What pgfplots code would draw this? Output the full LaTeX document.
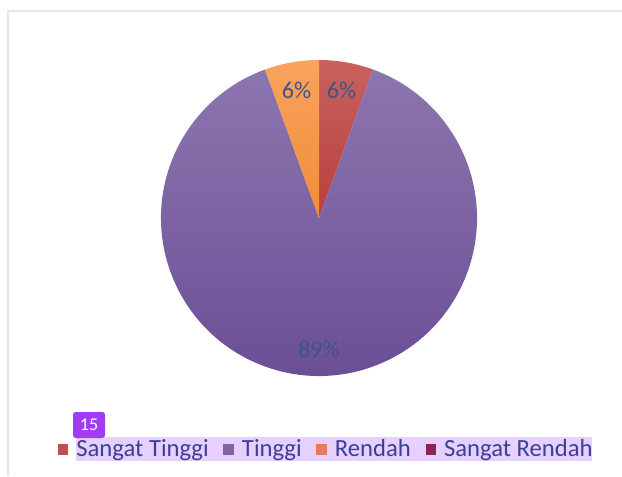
\documentclass[border=0pt]{standalone}
\usepackage{pgfplots}
\usepackage{pgfplotstable}
\pgfplotsset{compat=1.18}
\usepackage{fontspec}
\setmainfont{Carlito}
\definecolor{stTop}{HTML}{C8625F}
\definecolor{stBot}{HTML}{B93F3C}
\definecolor{tTop}{HTML}{8C76AE}
\definecolor{tBot}{HTML}{694C95}
\definecolor{rTop}{HTML}{FAA35D}
\definecolor{rBot}{HTML}{F08C38}
\definecolor{stL}{HTML}{C0504D}
\definecolor{tL}{HTML}{8064A2}
\definecolor{rL}{HTML}{E97B5C}
\definecolor{srL}{HTML}{8A2452}
\definecolor{lblc}{HTML}{3B5586}
\definecolor{legc}{HTML}{3C3F95}
\definecolor{hl}{HTML}{E5D0FF}
\definecolor{badge}{HTML}{A03CF5}
\definecolor{frame}{HTML}{DEE7F2}

\pgfplotstableread{
label value
ST 1
T 16
R 1
SR 0
}\piedata
\pgfplotstablegetelem{0}{value}\of\piedata\let\vST\pgfplotsretval
\pgfplotstablegetelem{1}{value}\of\piedata\let\vT\pgfplotsretval
\pgfplotstablegetelem{2}{value}\of\piedata\let\vR\pgfplotsretval
\pgfplotstablegetelem{3}{value}\of\piedata\let\vSR\pgfplotsretval
\pgfmathsetmacro\vTot{\vST+\vT+\vR+\vSR}
\pgfmathsetmacro\aA{90}
\pgfmathsetmacro\aB{90-360*\vST/\vTot}
\pgfmathsetmacro\aC{\aB-360*\vT/\vTot}
\pgfmathsetmacro\aD{\aC-360*\vR/\vTot}
\pgfmathsetmacro\mA{(\aA+\aB)/2}
\pgfmathsetmacro\mB{(\aB+\aC)/2}
\pgfmathsetmacro\mC{(\aC+\aD)/2}

\newcommand\slice[4]{%
  \shade[top color=#3,bottom color=#4] (axis cs:0,0) -- (axis cs:{cos(#1)},{sin(#1)})
    arc[start angle=#1,end angle=#2,radius=118.5pt] -- cycle;}

\begin{document}
\begin{tikzpicture}[x=0.75pt,y=0.75pt]
\path[use as bounding box] (0,0) rectangle (622,476);
\fill[white] (0,0) rectangle (622,476);
\draw[frame,line width=1.5pt] (8,0) -- (8,465) -- (622,465);
\fill[hl] (76,476-461) rectangle (592,476-437);
\coordinate (C) at (319,258);
\begin{axis}[
  at={(C)}, anchor=center,
  x=118.5pt, y=118.5pt,
  xmin=-1, xmax=1, ymin=-1, ymax=1,
  hide axis, clip=false,
  legend style={at={(0.524,-0.23)}, anchor=center, draw=none, fill=none,
    legend columns=-1, font=\fontsize{18.5}{20}\selectfont\color{legc},
    /tikz/every odd column/.append style={column sep=4.5pt},
    /tikz/every even column/.append style={column sep=9pt}},
  legend image code/.code={\fill[#1] (0pt,-4pt) rectangle (7pt,3pt);},
]
\slice{\aA}{\aB}{stTop}{stBot}
\slice{\aB}{\aC}{tTop}{tBot}
\slice{\aC}{\aD}{rTop}{rBot}
\addlegendimage{stL}\addlegendentry{Sangat Tinggi}
\addlegendimage{tL}\addlegendentry{Tinggi}
\addlegendimage{rL}\addlegendentry{Rendah}
\addlegendimage{srL}\addlegendentry{Sangat Rendah}
\node[lblc,font=\fontsize{18}{20}\selectfont] at (axis cs:{0.82*cos(\mA)},{0.82*sin(\mA)}) {6\%};
\node[lblc,font=\fontsize{18}{20}\selectfont] at (axis cs:{0.82*cos(\mC)},{0.82*sin(\mC)}) {6\%};
\node[lblc,font=\fontsize{18}{20}\selectfont] at (axis cs:0,-0.83) {89\%};
\end{axis}
\node[fill=badge,rounded corners=2pt,text=white,font=\fontsize{13.5}{15}\selectfont,
  minimum width=24pt,minimum height=19.5pt,inner sep=0pt] at (89,476-425) {15};
\end{tikzpicture}
\end{document}
